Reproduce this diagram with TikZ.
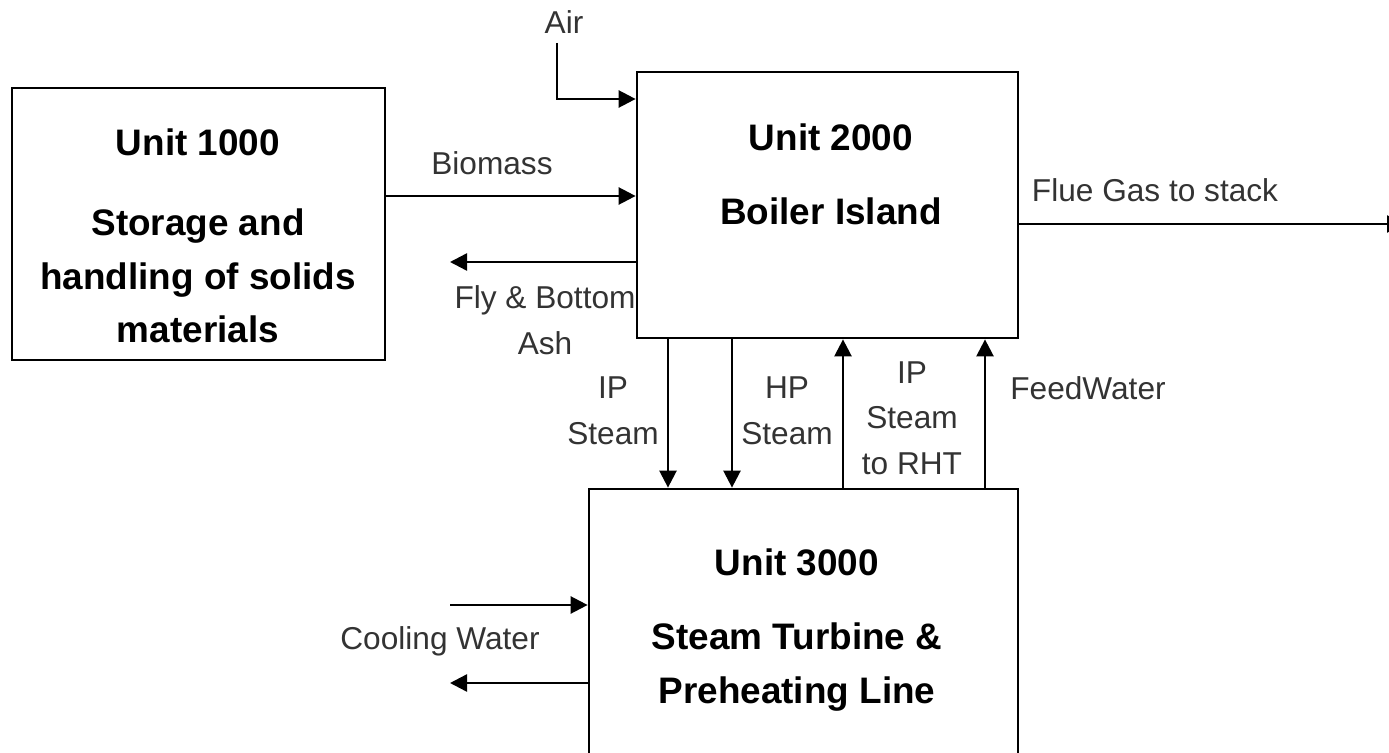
\documentclass[tikz,border=0pt]{standalone}
\usepackage{fontspec}
\setmainfont{Liberation Sans}
\usepackage{xcolor}
\usetikzlibrary{positioning,calc,arrows.meta}
\definecolor{labelgray}{HTML}{333333}

\begin{document}
\begin{tikzpicture}[x=0.02cm, y=-0.02cm,
  unitbox/.style={draw, line width=1.6pt, inner sep=0pt},
  flow/.style={line width=1.4pt, -{Triangle[length=0.34cm,width=0.34cm]}},
  title/.style={font=\fontsize{21}{30.5}\selectfont\bfseries, align=center, inner sep=0pt},
  lbl/.style={font=\fontsize{18}{26}\selectfont, text=labelgray, align=center, inner sep=0pt}]
  \useasboundingbox (0,0) rectangle (1389,753);

  % Unit blocks
  \node[unitbox, minimum width=7.46cm, minimum height=5.44cm] (unitA) at (198.5,224) {};
  \node[unitbox, minimum width=7.62cm, minimum height=5.32cm] (unitB) at (827.5,205) {};
  \node[unitbox, minimum width=8.58cm, minimum height=6.22cm] (unitC) at (803.5,644.5) {};

  \node[title] (titleA) at (198,142) {Unit 1000};
  \node[title] (textA) at (198,276) {Storage and\\handling of solids\\materials};
  \node[title] (titleB) at (831,137) {Unit 2000};
  \node[title] (textB) at (831,211) {Boiler Island};
  \node[title] (titleC) at (797,562) {Unit 3000};
  \node[title] (textC) at (797,667) {Steam Turbine \&\\Preheating Line};

  % Free ends
  \coordinate (airsrc) at (557,43);
  \coordinate (ashend) at (450,262);
  \coordinate (flueend) at (1404,224);
  \coordinate (cwin) at (450,605);
  \coordinate (cwout) at (450,683);

  % Streams to and from the boiler island
  \node[lbl] (airlbl) at (564,22) {Air};
  \draw[flow] (airsrc) |- (unitB.west |- 0,99);
  \node[lbl] (biolbl) at (492,163) {Biomass};
  \draw[flow] (unitA.east |- 0,196) -- (unitB.west |- 0,196);
  \node[lbl] (ashlbl) at (545,320) {Fly \& Bottom\\Ash};
  \draw[flow] (unitB.west |- 0,262) -- (ashend);
  \node[lbl] (fluelbl) at (1155,190) {Flue Gas to stack};
  \draw[flow] (unitB.east |- 0,224) -- (flueend);

  % Steam and water between boiler and turbine
  \foreach \x/\from/\to in {668/unitB.south/unitC.north, 732/unitB.south/unitC.north,
                            843/unitC.north/unitB.south, 985/unitC.north/unitB.south} {
    \draw[flow] (\from -| \x,0) -- (\to -| \x,0);
  }
  \node[lbl] (ipsteam) at (613,411) {IP\\Steam};
  \node[lbl] (hpsteam) at (787,411) {HP\\Steam};
  \node[lbl] (rhtsteam) at (912,418) {IP\\Steam\\to RHT};
  \node[lbl] (fwlbl) at (1088,388) {FeedWater};

  % Cooling water
  \node[lbl] (cwlbl) at (440,641) {Cooling Water};
  \draw[flow] (cwin) -- (unitC.west |- 0,605);
  \draw[flow] (unitC.west |- 0,683) -- (cwout);
\end{tikzpicture}
\end{document}
